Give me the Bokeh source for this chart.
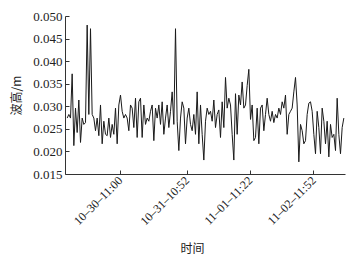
import math
from bokeh.plotting import figure
from bokeh.models import Range1d, FixedTicker, Title
from bokeh.embed import file_html
from bokeh.resources import INLINE

# wave height (m) in order
wave_height = [
    0.0275, 0.0283, 0.0275, 0.0373, 0.0214, 0.0297, 0.0243, 0.0315, 0.0221, 0.0275,
    0.0261, 0.0265, 0.0481, 0.0283, 0.0473, 0.0283, 0.0275, 0.0247, 0.0275, 0.0236,
    0.0304, 0.0218, 0.0268, 0.0239, 0.0236, 0.0275, 0.0232, 0.0261, 0.0239, 0.0297,
    0.0218, 0.0304, 0.0326, 0.0290, 0.0275, 0.0283, 0.0275, 0.0247, 0.0304,
    0.0297, 0.0254, 0.0319, 0.0232, 0.0311, 0.0319, 0.0232, 0.0304, 0.0261, 0.0275,
    0.0268, 0.0290, 0.0304, 0.0225, 0.0297, 0.0275, 0.0304, 0.0261, 0.0311, 0.0239,
    0.0275, 0.0304, 0.0254, 0.0290, 0.0333, 0.0261, 0.0473, 0.0268, 0.0203, 0.0275,
    0.0311, 0.0297, 0.0218, 0.0275, 0.0297, 0.0261, 0.0247, 0.0283, 0.0239, 0.0333,
    0.0218, 0.0304, 0.0239,
    0.0182, 0.0268, 0.0297, 0.0283, 0.0290, 0.0268, 0.0315, 0.0254, 0.0283, 0.0293,
    0.0232, 0.0311, 0.0254, 0.0365, 0.0297, 0.0319, 0.0304, 0.0239, 0.0182, 0.0329,
    0.0239, 0.0326, 0.0304, 0.0355, 0.0297, 0.0304, 0.0347, 0.0383, 0.0272, 0.0304,
    0.0225, 0.0232, 0.0297, 0.0218, 0.0297, 0.0304, 0.0247, 0.0283, 0.0319, 0.0283,
    0.0268, 0.0290, 0.0265, 0.0283, 0.0275, 0.0297, 0.0283, 0.0311, 0.0297, 0.0326,
    0.0239, 0.0283, 0.0290, 0.0297, 0.0333, 0.0365, 0.0304, 0.0178, 0.0261, 0.0247,
    0.0218, 0.0225, 0.0283, 0.0308, 0.0311, 0.0290, 0.0239, 0.0196, 0.0290, 0.0254,
    0.0196, 0.0297, 0.0268, 0.0218, 0.0268, 0.0189, 0.0261, 0.0232, 0.0239, 0.0203,
    0.0319, 0.0239, 0.0196, 0.0254, 0.0275,
]
sample_index = list(range(len(wave_height)))

# time tick labels and the sample indices they mark
tick_index = [32, 72, 110, 148]
tick_labels = ["10\u201330\u201311:00", "10\u201331\u201310:52", "11\u201301\u201311:22", "11\u201302\u201311:52"]
y_ticks = [0.015, 0.020, 0.025, 0.030, 0.035, 0.040, 0.045, 0.050]
y_labels = ["0.015", "0.020", "0.025", "0.030", "0.035", "0.040", "0.045", "0.050"]

p = figure(width=356, height=255, output_backend="svg", toolbar_location=None,
           x_range=Range1d(-1, 167), y_range=Range1d(0.015, 0.050))
p.min_border_left = 65
p.min_border_right = 11
p.min_border_top = 16
p.min_border_bottom = 0
p.outline_line_color = None
p.grid.visible = False
p.background_fill_color = "white"
p.border_fill_color = "white"

p.line(sample_index, wave_height, line_color="#1a1a1a", line_width=1)

serif = "Liberation Serif"
for ax in (p.xaxis[0], p.yaxis[0]):
    ax.major_tick_in = 4
    ax.major_tick_out = 0
    ax.minor_tick_in = 0
    ax.minor_tick_out = 0
    ax.major_label_text_font = serif
    ax.major_label_text_color = "#222222"
    ax.axis_line_color = "#333333"
    ax.major_tick_line_color = "#333333"

p.yaxis.major_label_text_font_size = "13px"
p.xaxis.major_label_text_font_size = "12px"
p.xaxis.ticker = FixedTicker(ticks=tick_index)
p.xaxis.major_label_overrides = {t: l for t, l in zip(tick_index, tick_labels)}
p.xaxis.major_label_orientation = math.pi / 4
p.xaxis.major_label_standoff = 4

p.yaxis.ticker = FixedTicker(ticks=y_ticks)
p.yaxis.major_label_overrides = {t: l for t, l in zip(y_ticks, y_labels)}
p.yaxis.major_label_standoff = 3
p.yaxis.axis_label = "波高/m"
p.yaxis.axis_label_text_font = "Noto Sans CJK SC"
p.yaxis.axis_label_text_font_style = "normal"
p.yaxis.axis_label_text_font_size = "12px"
p.yaxis.axis_label_text_color = "#222222"
p.yaxis.axis_label_standoff = 6

p.add_layout(Title(text="时间", align="left", offset=115, text_font="Noto Sans CJK SC",
                   text_font_size="12px", text_font_style="normal",
                   text_color="#222222", standoff=0), "below")

open("out.html", "w").write(file_html(p, INLINE))
